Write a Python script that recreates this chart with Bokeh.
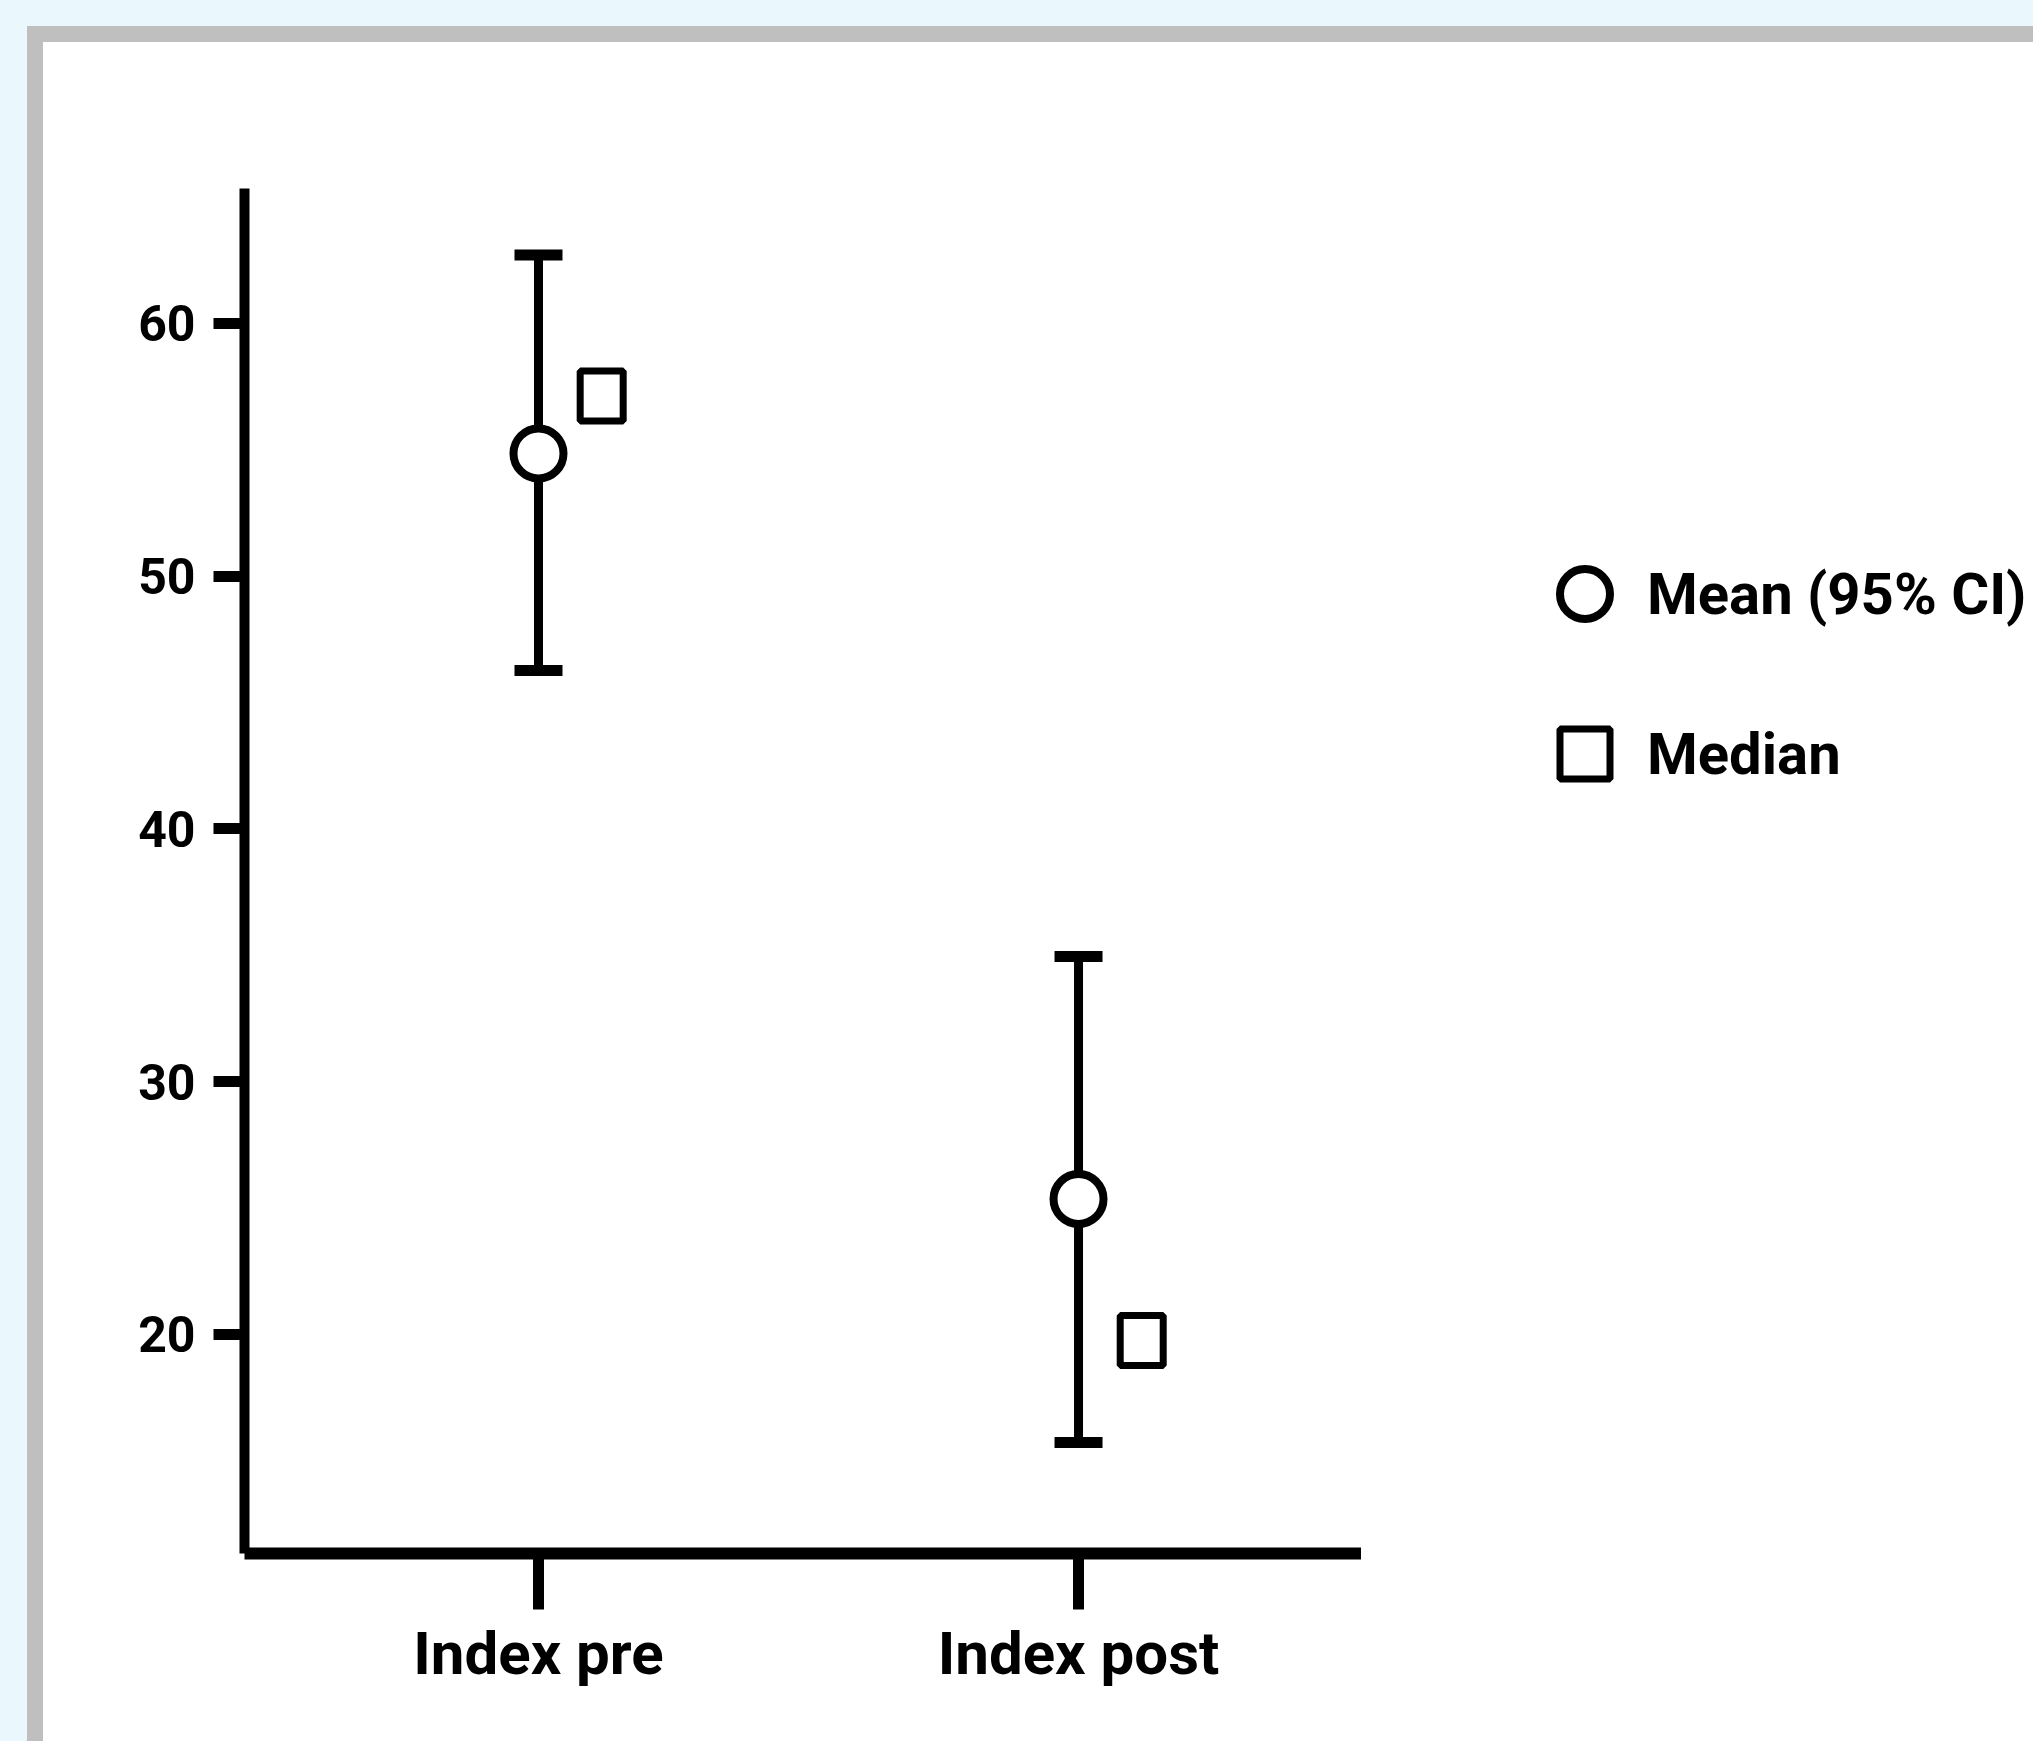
from bokeh.plotting import figure
from bokeh.models import (Range1d, FixedTicker, ColumnDataSource, Whisker, TeeHead,
                          Legend, LegendItem, Spacer)
from bokeh.layouts import row, column
from bokeh.transform import dodge
from bokeh.embed import file_html
from bokeh.resources import INLINE

# ---- data ----
categories = ["Index pre", "Index post"]
positions = [1, 2]
mean_vals = [54.86, 25.36]
ci_lower = [46.27, 15.73]
ci_upper = [62.71, 34.96]
median_vals = [57.13, 19.76]
y_ticks = [20, 30, 40, 50, 60]

FONT = "Roboto"
BLUE = "#EAF7FD"
GRAY = "#BFBFBF"

H = 1699
p = figure(width=1318, height=H, output_backend="svg", toolbar_location=None,
           x_range=Range1d(0.4556, 2.524), y_range=Range1d(11.335, 65.341),
           min_border_left=201, min_border_right=0, min_border_top=146,
           min_border_bottom=188, background_fill_color="white",
           border_fill_color="white", outline_line_color=None)
p.grid.visible = False

# axes
p.xaxis.ticker = FixedTicker(ticks=positions)
p.xaxis.major_label_overrides = {pos: cat for pos, cat in zip(positions, categories)}
p.yaxis.ticker = FixedTicker(ticks=y_ticks)
for ax in (p.xaxis[0], p.yaxis[0]):
    ax.minor_tick_line_color = None
    ax.major_tick_in = 0
    ax.axis_line_color = "black"
    ax.major_tick_line_color = "black"
    ax.major_label_text_font = FONT
    ax.major_label_text_font_style = "bold"
    ax.major_label_text_color = "black"
p.xaxis.axis_line_width = 12
p.xaxis.major_tick_line_width = 11
p.xaxis.major_tick_out = 56
p.xaxis.major_label_standoff = 8
p.xaxis.major_label_text_font_size = "60px"
p.yaxis.axis_line_width = 10
p.yaxis.major_tick_line_width = 11
p.yaxis.major_tick_out = 31
p.yaxis.major_label_standoff = 18
p.yaxis.major_label_text_font_size = "50px"

src = ColumnDataSource(dict(x=positions, cat=categories, mean=mean_vals,
                            lower=ci_lower, upper=ci_upper, median=median_vals))

# CI whiskers
whisker = Whisker(source=src, base="x", upper="upper", lower="lower",
                  dimension="height", line_color="black", line_width=9,
                  upper_head=TeeHead(size=48, line_width=11, line_color="black"),
                  lower_head=TeeHead(size=48, line_width=11, line_color="black"))
p.add_layout(whisker)

mean_style = dict(marker="circle", size=50, fill_color="white",
                  line_color="black", line_width=8)
median_style = dict(fill_color="white", line_color="black", line_width=7)

# mean circles
p.scatter(x="x", y="mean", source=src, **mean_style)
# median squares
p.rect(x=dodge("x", 0.117), y="median", source=src, width=43, height=50,
       width_units="screen", height_units="screen", **median_style)

# ---- legend panel (separate canvas to the right of the chart) ----
# its ranges lie away from the data, so the key glyphs show only in the legend
pl = figure(width=672, height=H, output_backend="svg", toolbar_location=None,
            x_range=Range1d(-3, -2), y_range=Range1d(-3, -2),
            x_axis_location=None, y_axis_location=None,
            min_border_left=0, min_border_right=0, min_border_top=0,
            min_border_bottom=0, background_fill_color="white",
            border_fill_color="white", outline_line_color=None)
pl.grid.visible = False
leg_mean = pl.scatter(x="x", y="mean", source=src, **mean_style)
leg_median = pl.scatter(x="x", y="median", source=src, marker="square",
                        size=50, **median_style)

legend = Legend(items=[LegendItem(label="Mean (95% CI)", renderers=[leg_mean]),
                       LegendItem(label="Median", renderers=[leg_median])],
                location=(161, 737), glyph_width=125, glyph_height=125,
                spacing=35, padding=0, margin=0, label_standoff=0,
                label_text_font=FONT, label_text_font_style="bold",
                label_text_font_size="58px", label_text_color="black",
                background_fill_alpha=0, border_line_alpha=0)
pl.add_layout(legend)

# page surround: light blue outside, gray border strip
def strip(w, h, c):
    return Spacer(width=w, height=h, styles={"background-color": c})

layout = column(
    strip(2033, 26, BLUE),
    row(strip(27, 1715, BLUE),
        column(strip(2006, 16, GRAY),
               row(strip(16, H, GRAY), p, pl, spacing=0),
               spacing=0),
        spacing=0),
    spacing=0)

open("out.html", "w").write(file_html(layout, INLINE))
